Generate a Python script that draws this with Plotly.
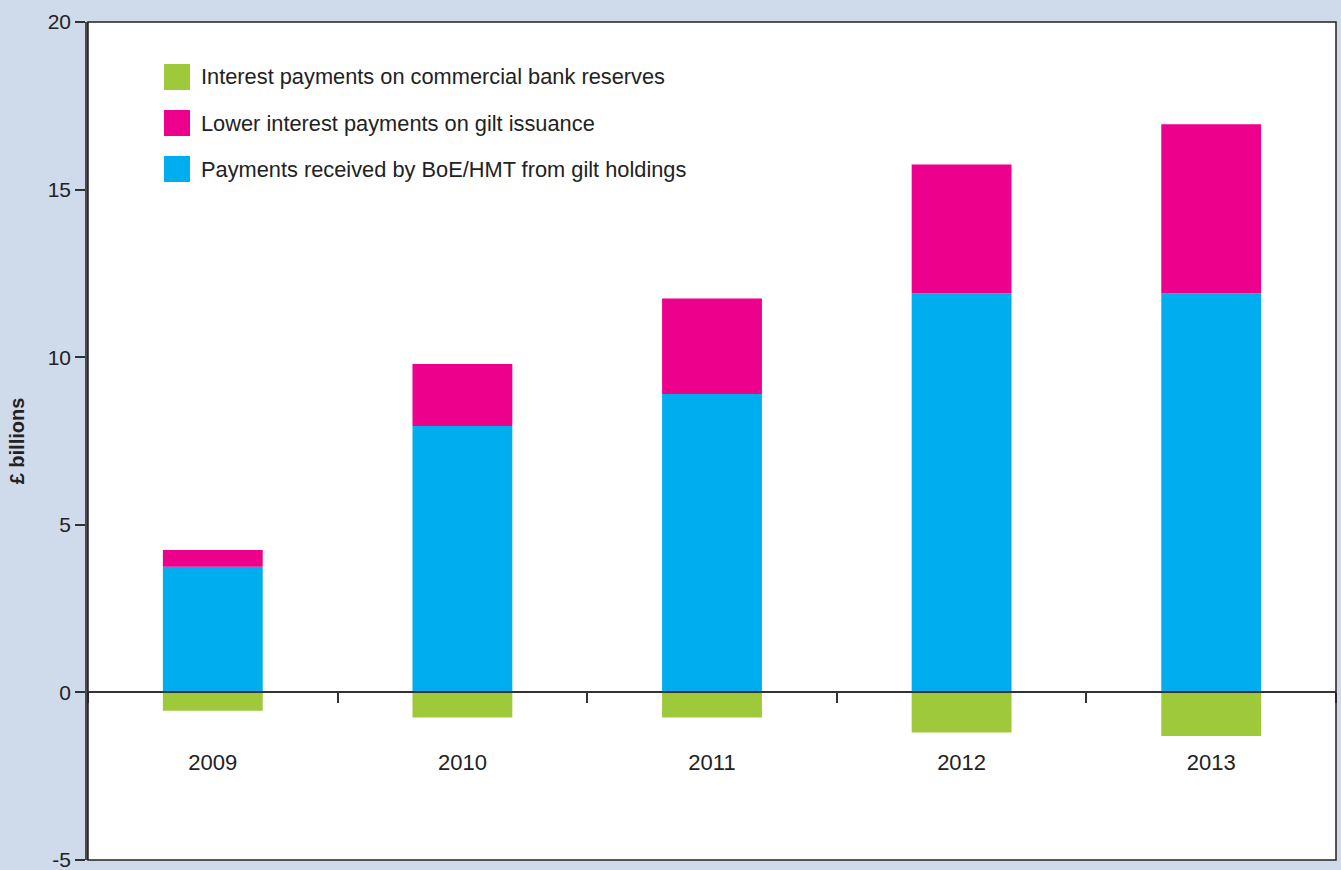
import plotly.graph_objects as go

years = ["2009", "2010", "2011", "2012", "2013"]
gilt_holdings = [3.75, 7.95, 8.9, 11.9, 11.9]
gilt_issuance = [0.5, 1.85, 2.85, 3.85, 5.05]
bank_reserves = [-0.55, -0.75, -0.75, -1.2, -1.3]

series_names = [
    "Interest payments on commercial bank reserves",
    "Lower interest payments on gilt issuance",
    "Payments received by BoE/HMT from gilt holdings",
]
series_colors = ["#9dc93b", "#ec008c", "#00aeef"]
y_ticks = [-5, 0, 5, 10, 15, 20]

FONT = "Liberation Sans"
TXT = "#222222"

fig = go.Figure()
fig.add_trace(go.Bar(x=years, y=gilt_holdings, name=series_names[2],
                     marker=dict(color=series_colors[2], line=dict(width=0)), width=0.4))
fig.add_trace(go.Bar(x=years, y=gilt_issuance, name=series_names[1],
                     marker=dict(color=series_colors[1], line=dict(width=0)), width=0.4))
fig.add_trace(go.Bar(x=years, y=bank_reserves, name=series_names[0],
                     marker=dict(color=series_colors[0], line=dict(width=0)), width=0.4))

# custom legend (large squares)
W, H = 1248.0, 838.0
shapes = []
annotations = []
for i, (nm, col) in enumerate(zip(series_names, series_colors)):
    top = 64 + 46 * i
    shapes.append(dict(type="rect", xref="paper", yref="paper",
                       x0=(164 - 88) / W, x1=(190 - 88) / W,
                       y0=(860 - top - 26) / H, y1=(860 - top) / H,
                       fillcolor=col, line=dict(width=0)))
    annotations.append(dict(xref="paper", yref="paper", x=(199 - 88) / W,
                            y=(860 - top - 13) / H, text=nm, showarrow=False,
                            xanchor="left", yanchor="middle",
                            font=dict(family=FONT, size=21.8, color=TXT)))

# frame
shapes.append(dict(type="rect", xref="paper", yref="paper", x0=0, x1=1, y0=0, y1=1,
                   line=dict(color="#222222", width=1.5), layer="above"))

fig.update_layout(
    width=1341, height=870,
    margin=dict(l=88, r=5, t=22, b=10, autoexpand=False),
    paper_bgcolor="#cfdaeb",
    plot_bgcolor="#ffffff",
    barmode="relative",
    showlegend=False,
    font=dict(family=FONT, size=21, color=TXT),
    shapes=shapes,
    annotations=annotations,
    xaxis=dict(
        type="category", anchor="free", position=0.2, automargin=False,
        showline=True, linecolor="#333333", linewidth=1.5,
        ticks="outside", tickson="boundaries", ticklen=10, tickcolor="#333333", tickwidth=1.5,
        ticklabelstandoff=50, showgrid=False, zeroline=False,
        tickfont=dict(family=FONT, size=22, color=TXT),
    ),
    yaxis=dict(
        range=[-5, 20], tickvals=y_ticks, ticktext=[str(v) for v in y_ticks],
        automargin=False,
        showline=True, linecolor="#4a4a4a", linewidth=2.5,
        ticks="outside", ticklen=10, tickcolor="#333333", tickwidth=1.5,
        ticklabeloverflow="allow",
        showgrid=False, zeroline=False,
        tickfont=dict(family=FONT, size=21, color=TXT),
        title=dict(text="<b>£ billions</b>", standoff=18,
                   font=dict(family=FONT, size=20, color=TXT)),
    ),
)

fig.write_html("out.html", config={"displayModeBar": False},
               post_script="document.body.style.margin='0';document.body.style.overflow='hidden';")
